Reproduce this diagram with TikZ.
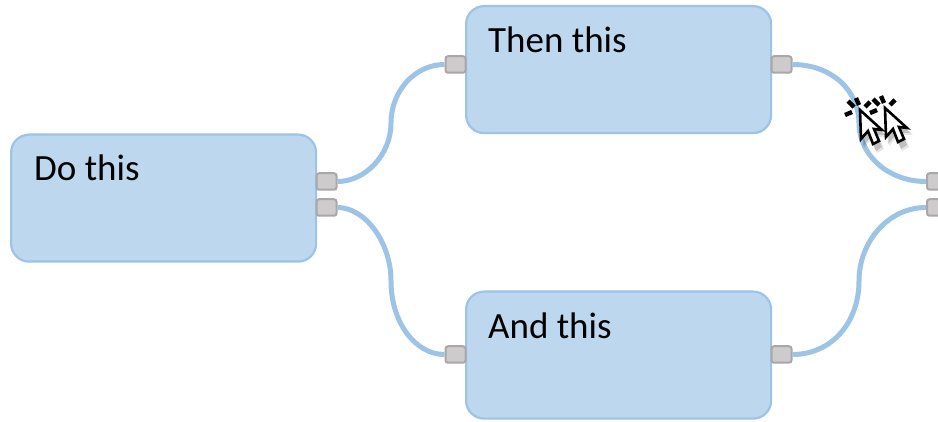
\documentclass[tikz,border=0pt]{standalone}
\usepackage{fontspec}
\setmainfont{Carlito}
\definecolor{boxfill}{HTML}{BDD7EE}
\definecolor{boxline}{HTML}{9DC3E6}
\definecolor{portfill}{HTML}{CDCBCB}
\definecolor{portline}{HTML}{A9A7A7}
\tikzset{
  task/.style={draw=boxline,fill=boxfill,line width=2.2pt,rounded corners=18pt,minimum width=305pt,minimum height=127pt,inner sep=0pt,anchor=north west},
  tasktext/.style={font=\fontsize{37pt}{44pt}\selectfont,anchor=base west,inner sep=0pt,text=black},
  port/.style={draw=portline,fill=portfill,line width=2pt,rounded corners=2.5pt,minimum width=20pt,minimum height=16.5pt,inner sep=0pt},
  link/.style={draw=boxline,line width=5pt},
  cursorbody/.pic={
    \fill[black,opacity=0.10] (3,7) -- (4,38) -- (11,30) -- (17,43) -- (24,39) -- (19,27) -- (28,27) -- cycle;
    \fill[black,opacity=0.16] (2,5) -- (3,36) -- (10,28) -- (16,41) -- (22,37) -- (17,25) -- (26,25) -- cycle;
    \draw[black,line width=2.6pt,fill=white,line join=miter] (0,0) -- (1,29) -- (8,21) -- (13,34) -- (19,31) -- (14,19) -- (22,20) -- cycle;
    \draw[black,line width=4.4pt] (-1,-5) -- (-4,-12) (-6,-3) -- (-12,-9) (-8,2) -- (-15,5) (5,-3) -- (10,-8);
  }
}
\begin{document}
\begin{tikzpicture}[x=1pt,y=-1pt]
\useasboundingbox (0,0) rectangle (938,422);
\clip (0,0) rectangle (938,422);
\fill[white] (0,0) rectangle (938,422);
\node[task] (doBox) at (10,133.5) {};
\node[task] (thenBox) at (465,5) {};
\node[task] (andBox) at (465,290.5) {};
\node[tasktext] (doText) at (34,181) {Do this};
\node[tasktext] (thenText) at (488,53) {Then this};
\node[tasktext] (andText) at (488,338) {And this};
\coordinate (midA) at (391,123);
\coordinate (midB) at (391,281);
\coordinate (midC) at (859,123);
\coordinate (midD) at (859,281);
\node[port] (doOutA) at (326.5,181.5) {};
\node[port] (doOutB) at (326.5,207.5) {};
\node[port] (thenIn) at (455.5,64.5) {};
\node[port] (thenOut) at (781.5,64.5) {};
\node[port] (andIn) at (455.5,354.5) {};
\node[port] (andOut) at (781.5,354.5) {};
\node[port] (nextA) at (937,181.5) {};
\node[port] (nextB) at (937,207.5) {};
\draw[link] (thenIn.west) .. controls (415,64.5) and (391,91) .. (midA) .. controls (391,155) and (365,181.5) .. (doOutA.east);
\draw[link] (andIn.west) .. controls (415,354.5) and (391,322) .. (midB) .. controls (391,242) and (365,207.5) .. (doOutB.east);
\draw[link] (thenOut.east) .. controls (832,64.5) and (859,91) .. (midC) .. controls (859,155) and (888,181.5) .. (nextA.west);
\draw[link] (andOut.east) .. controls (832,354.5) and (859,322) .. (midD) .. controls (859,242) and (888,207.5) .. (nextB.west);
\pic at (860,110) {cursorbody};
\pic at (885,108) {cursorbody};
\end{tikzpicture}
\end{document}
